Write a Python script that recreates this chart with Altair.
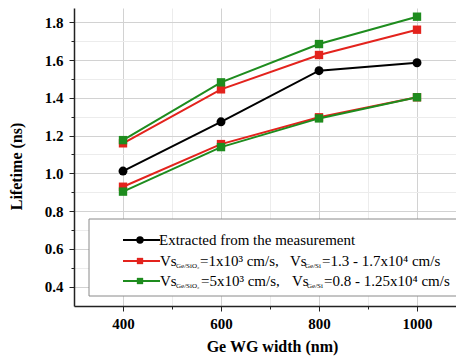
import altair as alt
import pandas as pd

widths = [400, 600, 800, 1000]
extracted = [1.012, 1.273, 1.544, 1.586]
red_hi = [1.159, 1.445, 1.627, 1.761]
red_lo = [0.929, 1.155, 1.297, 1.403]
green_hi = [1.176, 1.482, 1.685, 1.830]
green_lo = [0.903, 1.139, 1.291, 1.403]

x_ticks = [400, 500, 600, 700, 800, 900, 1000]
y_ticks = [0.4, 0.5, 0.6, 0.7, 0.8, 0.9, 1.0, 1.1, 1.2, 1.3, 1.4, 1.5, 1.6, 1.7, 1.8]

legend_labels = ["Extracted from the measurement",
                 "Vs", "Ge/SiO\u2082", "=1x10\u00b3 cm/s,", "Vs", "Ge/Si", "=1.3 - 1.7x10\u2074 cm/s",
                 "Vs", "Ge/SiO\u2082", "=5x10\u00b3 cm/s,", "Vs", "Ge/Si", "=0.8 - 1.25x10\u2074 cm/s"]

RED = "#e3231d"
GREEN = "#1e8c1e"
BLACK = "#000000"
FONT = "Liberation Serif"

W, H = 382, 298
xs = alt.Scale(domain=[300, 1079.6], nice=False, zero=False)
ys = alt.Scale(domain=[0.297, 1.876], nice=False, zero=False)

x_axis = alt.Axis(
    values=x_ticks, title="Ge WG width (nm)", format="d",
    labelExpr="datum.value % 200 === 0 ? datum.label : ''",
    gridColor={"condition": {"test": "datum.value % 200 === 0", "value": "#d2d2d2"}, "value": "#ececec"},
    tickSize={"condition": {"test": "datum.value % 200 === 0", "value": 5}, "value": 3},
    labelPadding=5, titleX=198, titleY=40, titleBaseline="middle", titleAlign="center",
)
y_axis = alt.Axis(
    values=y_ticks, title="Lifetime (ns)",
    labelExpr="round(datum.value*10) % 2 === 0 ? format(datum.value, '.1f') : ''",
    gridColor={"condition": {"test": "round(datum.value*10) % 2 === 0", "value": "#d2d2d2"}, "value": "#ececec"},
    tickSize={"condition": {"test": "round(datum.value*10) % 2 === 0", "value": 5}, "value": 3},
    labelPadding=6, titleX=-58, titleY=158, titleBaseline="middle", titleAlign="center", titleAngle=-90,
)

def series_layers(vals, color, shape, size):
    df = pd.DataFrame({"width": widths, "lifetime": vals})
    base = alt.Chart(df).encode(
        x=alt.X("width:Q", scale=xs, axis=x_axis),
        y=alt.Y("lifetime:Q", scale=ys, axis=y_axis),
    )
    line = base.mark_line(color=color, strokeWidth=2)
    pts = base.mark_point(color=color, fill=color, filled=True, shape=shape, size=size, opacity=1)
    return [line, pts]

layers = []
layers += series_layers(red_hi, RED, "square", 70)
layers += series_layers(red_lo, RED, "square", 70)
layers += series_layers(green_hi, GREEN, "square", 70)
layers += series_layers(green_lo, GREEN, "square", 70)
layers += series_layers(extracted, BLACK, "circle", 80)

one = pd.DataFrame({"a": [0]})

# legend box
box = alt.Chart(one).mark_rect(fill="white", stroke="#8a8a8a", strokeWidth=1).encode(
    x=alt.value(15), x2=alt.value(400), y=alt.value(211), y2=alt.value(288))
layers.append(box)

rows_y = [232, 253, 273]
row_colors = [BLACK, RED, GREEN]
row_shapes = ["circle", "square", "square"]
for ry, c, s in zip(rows_y, row_colors, row_shapes):
    layers.append(alt.Chart(one).mark_rule(color=c, strokeWidth=2).encode(
        x=alt.value(49), x2=alt.value(86), y=alt.value(ry)))
    layers.append(alt.Chart(one).mark_point(color=c, fill=c, filled=True, shape=s,
                                            size=40 if s == "square" else 55, opacity=1).encode(
        x=alt.value(66), y=alt.value(ry)))

def txt(label, x, y, size=15):
    return alt.Chart(one).mark_text(align="left", baseline="middle", font=FONT,
                                    fontSize=size, color="black", text=label).encode(
        x=alt.value(x), y=alt.value(y))

layers.append(txt(legend_labels[0], 85, rows_y[0]))
# row 2
layers.append(txt(legend_labels[1], 86, rows_y[1]))
layers.append(txt(legend_labels[2], 102, rows_y[1] + 5, 7))
layers.append(txt(legend_labels[3], 126, rows_y[1]))
layers.append(txt(legend_labels[4], 216, rows_y[1]))
layers.append(txt(legend_labels[5], 231, rows_y[1] + 5, 7))
layers.append(txt(legend_labels[6], 248, rows_y[1]))
# row 3
layers.append(txt(legend_labels[7], 86, rows_y[2]))
layers.append(txt(legend_labels[8], 102, rows_y[2] + 5, 7))
layers.append(txt(legend_labels[9], 127, rows_y[2]))
layers.append(txt(legend_labels[10], 218, rows_y[2]))
layers.append(txt(legend_labels[11], 233, rows_y[2] + 5, 7))
layers.append(txt(legend_labels[12], 250, rows_y[2]))

chart = alt.layer(*layers).properties(
    width=W, height=H,
    autosize=alt.AutoSizeParams(type="none"),
    padding={"left": 66, "top": 0, "right": 0, "bottom": 52},
).configure_view(strokeWidth=0).configure_axis(
    labelFont=FONT, labelFontWeight="bold", labelFontSize=15, labelColor="black",
    titleFont=FONT, titleFontWeight="bold", titleFontSize=16, titleColor="black",
    domainColor="#222222", domainWidth=1.5, tickColor="#222222", tickWidth=1,
)

chart.save("out.html", embed_options={"renderer": "svg", "actions": False})
